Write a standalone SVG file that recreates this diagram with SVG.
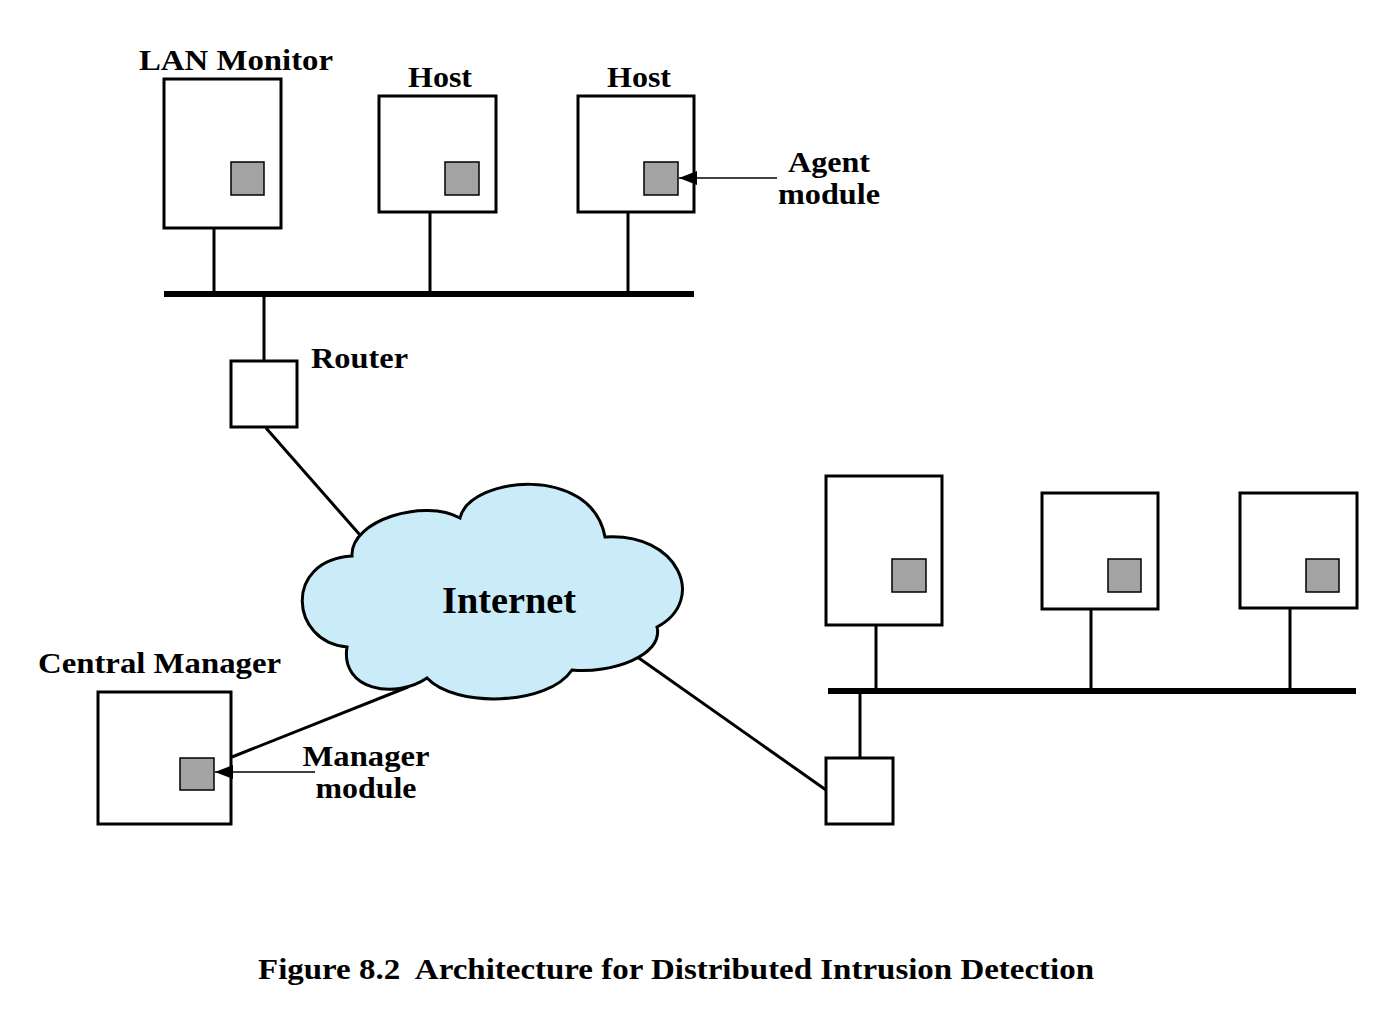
<svg xmlns="http://www.w3.org/2000/svg" width="1396" height="1018" viewBox="0 0 1396 1018">
<defs>
<style>
.box{fill:#fff;stroke:#000;stroke-width:3}
.mod{fill:#a3a3a3;stroke:#000;stroke-width:1.5}
.bus{stroke:#000;stroke-width:6;fill:none}
.ln{stroke:#000;stroke-width:3;fill:none}
.thin{stroke:#000;stroke-width:1.5;fill:none}
.lbl{font-family:"Liberation Serif","Times New Roman",serif;font-weight:bold;font-size:30px;fill:#000}
.cloud{fill:#c9ecf8;stroke:#000;stroke-width:3}
</style>
<marker id="arr" viewBox="0 0 18 14" refX="18" refY="7" markerWidth="18" markerHeight="14" markerUnits="userSpaceOnUse" orient="auto">
<path d="M0,0 L18,7 L0,14 z" fill="#000"/>
</marker>
</defs>
<rect width="1396" height="1018" fill="#fff"/>

<g id="connectors">
<line class="bus" x1="164" y1="294" x2="694" y2="294"/>
<line class="ln" x1="214" y1="228" x2="214" y2="294"/>
<line class="ln" x1="430" y1="212" x2="430" y2="294"/>
<line class="ln" x1="628" y1="212" x2="628" y2="294"/>
<line class="ln" x1="264" y1="294" x2="264" y2="361"/>
<line class="ln" x1="266" y1="428" x2="360" y2="535"/>
<line class="ln" x1="232" y1="757" x2="408" y2="687"/>
<line class="ln" x1="636" y1="656" x2="826" y2="790"/>
<line class="bus" x1="828" y1="691" x2="1356" y2="691"/>
<line class="ln" x1="876" y1="625" x2="876" y2="691"/>
<line class="ln" x1="1091" y1="609" x2="1091" y2="691"/>
<line class="ln" x1="1290" y1="608" x2="1290" y2="691"/>
<line class="ln" x1="860" y1="691" x2="860" y2="758"/>
</g>

<g id="internet">
<path class="cloud" d="M352 556 C350 520 425 498 460 518 C470 476 592 464 605 537 C678 532 708 600 657 627 C664 656 610 674 572 670 C548 706 455 708 427 678 C395 700 340 690 347 647 C290 642 283 560 352 556 Z"/>
<text class="lbl" x="509" y="613" text-anchor="middle" textLength="134" lengthAdjust="spacingAndGlyphs" style="font-size:38px">Internet</text>
</g>

<g id="lan-monitor">
<rect class="box" x="164" y="79" width="117" height="149"/>
<rect class="mod" x="231" y="162" width="33" height="33"/>
<text class="lbl" x="139" y="70" textLength="194" lengthAdjust="spacingAndGlyphs">LAN Monitor</text>
</g>

<g id="host1">
<rect class="box" x="379" y="96" width="117" height="116"/>
<rect class="mod" x="445" y="162" width="34" height="33"/>
<text class="lbl" x="440" y="87" text-anchor="middle" textLength="64" lengthAdjust="spacingAndGlyphs">Host</text>
</g>

<g id="host2">
<rect class="box" x="578" y="96" width="116" height="116"/>
<rect class="mod" x="644" y="162" width="34" height="33"/>
<text class="lbl" x="639" y="87" text-anchor="middle" textLength="64" lengthAdjust="spacingAndGlyphs">Host</text>
</g>

<g id="agent-label">
<text class="lbl" x="829" y="172" text-anchor="middle" textLength="82" lengthAdjust="spacingAndGlyphs">Agent</text>
<text class="lbl" x="829" y="204" text-anchor="middle" textLength="102" lengthAdjust="spacingAndGlyphs">module</text>
</g>

<g id="router1">
<rect class="box" x="231" y="361" width="66" height="66"/>
<text class="lbl" x="311" y="368" textLength="97" lengthAdjust="spacingAndGlyphs">Router</text>
</g>

<g id="central-manager">
<rect class="box" x="98" y="692" width="133" height="132"/>
<rect class="mod" x="180" y="758" width="34" height="32"/>
<text class="lbl" x="38" y="673" textLength="243" lengthAdjust="spacingAndGlyphs">Central Manager</text>
</g>

<g id="manager-label">
<text class="lbl" x="366" y="766" text-anchor="middle" textLength="127" lengthAdjust="spacingAndGlyphs">Manager</text>
<text class="lbl" x="366" y="798" text-anchor="middle" textLength="101" lengthAdjust="spacingAndGlyphs">module</text>
</g>

<g id="host3">
<rect class="box" x="826" y="476" width="116" height="149"/>
<rect class="mod" x="892" y="559" width="34" height="33"/>
</g>

<g id="host4">
<rect class="box" x="1042" y="493" width="116" height="116"/>
<rect class="mod" x="1108" y="559" width="33" height="33"/>
</g>

<g id="host5">
<rect class="box" x="1240" y="493" width="117" height="115"/>
<rect class="mod" x="1306" y="559" width="33" height="33"/>
</g>

<g id="router2">
<rect class="box" x="826" y="758" width="67" height="66"/>
</g>

<g id="pointers">
<line class="thin" x1="777" y1="178" x2="679" y2="178" marker-end="url(#arr)"/>
<line class="thin" x1="315" y1="772" x2="215" y2="772" marker-end="url(#arr)"/>
</g>

<g id="caption">
<text class="lbl" x="258" y="979" textLength="836" lengthAdjust="spacingAndGlyphs" xml:space="preserve" style="white-space:pre">Figure 8.2  Architecture for Distributed Intrusion Detection</text>
</g>
</svg>
